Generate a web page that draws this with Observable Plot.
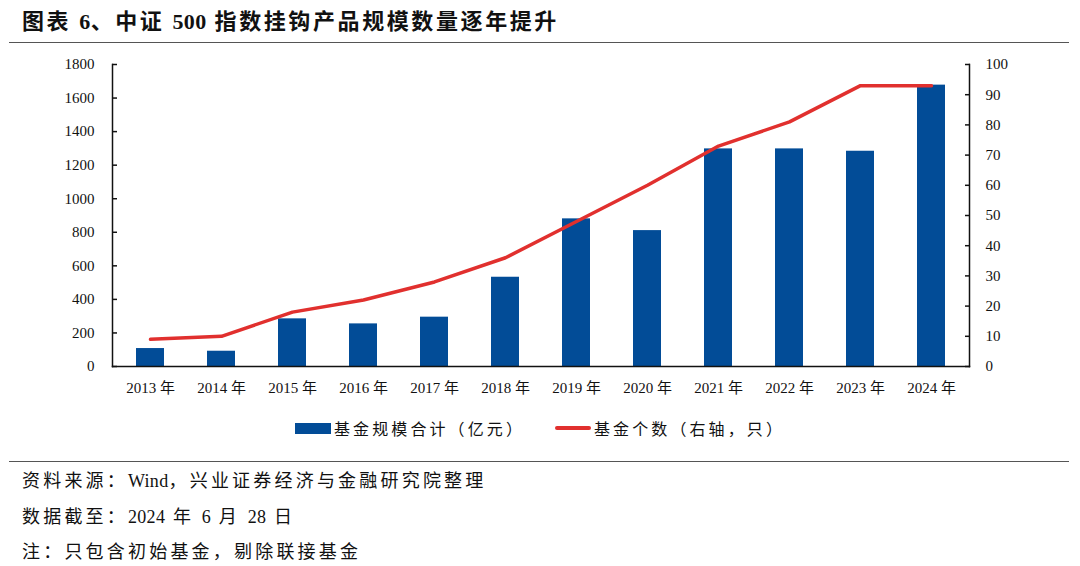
<!DOCTYPE html>
<html>
<head>
<meta charset="utf-8">
<script src="https://cdn.jsdelivr.net/npm/d3@7"></script>
<script src="https://cdn.jsdelivr.net/npm/@observablehq/plot@0.6"></script>
<style>
  html, body { margin: 0; padding: 0; background: #fff; }
  body { width: 1080px; height: 566px; position: relative; overflow: hidden;
         font-family: "Liberation Serif", "Noto Sans CJK SC", serif; color: #111; }
  .title { position: absolute; left: 22px; top: 3px; font-size: 22px; font-weight: bold; letter-spacing: 2.6px; }
  .rule { position: absolute; left: 9px; width: 1060px; height: 0; border-top: 1.5px solid #555; }
  #chart { position: absolute; left: 0; top: 50px; }
  .legend { position: absolute; top: 416px; left: 0; width: 1080px; display: flex; justify-content: center; gap: 30px; font-size: 16px; letter-spacing: 3.1px; }
  .legend span.item { display: flex; align-items: center; }
  .sw { display: inline-block; width: 36px; margin-right: 3px; }
  .note { position: absolute; left: 22px; font-size: 18px; letter-spacing: 3.2px; white-space: pre; }
  .lat { letter-spacing: 0.3px; }
</style>
</head>
<body>
<div class="title">图表 <span class="lat">6</span>、中证 <span class="lat">500</span> 指数挂钩产品规模数量逐年提升</div>
<div class="rule" style="top:42px"></div>
<div id="chart"></div>
<div class="legend">
  <span class="item"><span class="sw" style="height:11px;background:#024c97"></span>基金规模合计（亿元）</span>
  <span class="item"><span class="sw" style="height:4px;background:#e1302e;border-radius:2px"></span>基金个数（右轴，只）</span>
</div>
<div class="rule" style="top:461px"></div>
<div class="note" style="top:466px">资料来源：<span class="lat">Wind</span>，兴业证券经济与金融研究院整理</div>
<div class="note" style="top:502px">数据截至：<span class="lat">2024</span> 年 <span class="lat">6</span> 月 <span class="lat">28</span> 日</div>
<div class="note" style="top:537px">注：只包含初始基金，剔除联接基金</div>
<script>
const years = ["2013年","2014年","2015年","2016年","2017年","2018年","2019年","2020年","2021年","2022年","2023年","2024年"];
const fundSize = [107, 91, 284, 254, 294, 532, 880, 810, 1297, 1297, 1283, 1677];
const fundCount = [9, 10, 18, 22, 28, 36, 48, 60, 73, 81, 93, 93];
const leftTicks = [0, 200, 400, 600, 800, 1000, 1200, 1400, 1600, 1800];
const rightTicks = [0, 10, 20, 30, 40, 50, 60, 70, 80, 90, 100];

const ratio = 1800 / 100;
const data = years.map((y, i) => ({year: y.replace("年", " 年"), size: fundSize[i], count: fundCount[i]}));

const chart = Plot.plot({
  width: 1080,
  height: 360,
  marginLeft: 112,
  marginRight: 111,
  marginTop: 14,
  marginBottom: 44,
  style: {fontFamily: '"Liberation Serif", "Noto Sans CJK SC", serif', fontSize: "15px", color: "#111", background: "transparent"},
  x: {type: "band", domain: data.map(d => d.year), paddingInner: 0.6, paddingOuter: 0.3, align: 0.5},
  y: {domain: [0, 1800]},
  marks: [
    Plot.barY(data, {x: "year", y: "size", fill: "#024c97"}),
    Plot.line(data, {x: "year", y: d => d.count * ratio, stroke: "#e1302e", strokeWidth: 3.5, curve: "linear"}),
    Plot.frame({anchor: "left", stroke: "#111", strokeWidth: 1.5}),
    Plot.frame({anchor: "right", stroke: "#111", strokeWidth: 1.5}),
    Plot.frame({anchor: "bottom", stroke: "#111", strokeWidth: 1.5}),
    Plot.axisY(leftTicks, {anchor: "left", tickSize: -5, tickPadding: 23, strokeWidth: 1.5, tickFormat: d => String(d), label: null}),
    Plot.axisY(rightTicks.map(v => v * ratio), {anchor: "right", tickSize: -5, tickPadding: 21, strokeWidth: 1.5, tickFormat: d => String(Math.round(d / ratio)), label: null}),
    Plot.axisX({tickSize: 0, tickPadding: 16, label: null})
  ]
});
document.getElementById("chart").appendChild(chart);
</script>
</body>
</html>
